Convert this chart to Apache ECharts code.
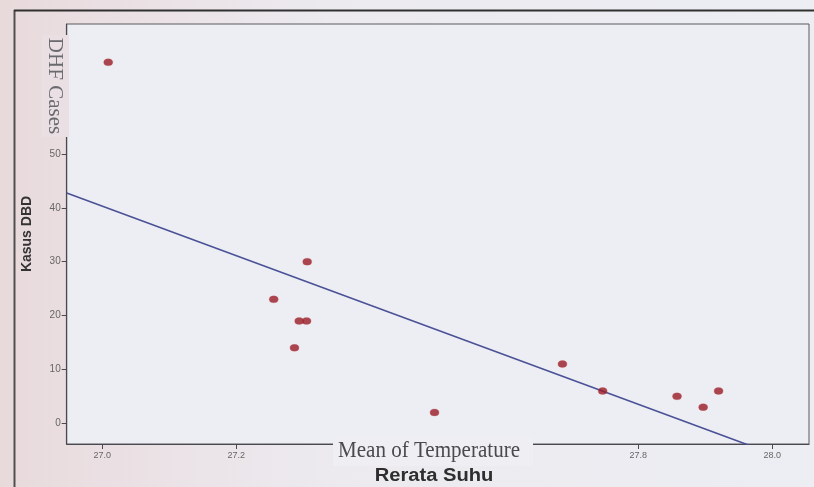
<!DOCTYPE html>
<html>
<head>
<meta charset="utf-8">
<script src="https://cdn.jsdelivr.net/npm/echarts@6/dist/echarts.min.js"></script>
<style>
html,body{margin:0;padding:0;background:#ebe7ec;}
#chart{width:814px;height:487px;}
</style>
</head>
<body>
<div id="chart"></div>
<script>
// Data
const temperature = [27.009, 27.256, 27.287, 27.294, 27.305, 27.306, 27.496, 27.687, 27.747, 27.858, 27.897, 27.920];
const dhfCases    = [67,     23,     14,     19,     19,     30,     2,      11,     6,      5,      3,      6];
const xTicks = [27.0, 27.2, 27.4, 27.6, 27.8, 28.0];
const yTicks = [0, 10, 20, 30, 40, 50, 60, 70];

const xMin = 26.947, xMax = 28.055, yMin = -3.84, yMax = 74.1;

// least-squares fit from the data
const n = temperature.length;
const mx = temperature.reduce((a, b) => a + b, 0) / n;
const my = dhfCases.reduce((a, b) => a + b, 0) / n;
let sxy = 0, sxx = 0;
for (let i = 0; i < n; i++) {
  sxy += (temperature[i] - mx) * (dhfCases[i] - my);
  sxx += (temperature[i] - mx) * (temperature[i] - mx);
}
const slope = sxy / sxx;
const icpt = my - slope * mx;
const fitLine = [[xMin, icpt + slope * xMin], [xMax, icpt + slope * xMax]];

const points = temperature.map((t, i) => [t, dhfCases[i]]);

const chart = echarts.init(document.getElementById('chart'));
chart.setOption({
  animation: false,
  backgroundColor: {
    type: 'linear', x: 0, y: 0, x2: 1, y2: 0,
    colorStops: [
      {offset: 0, color: '#e8dadb'},
      {offset: 0.12, color: '#eadfe2'},
      {offset: 0.4, color: '#eceaef'},
      {offset: 1, color: '#eceef3'}
    ]
  },
  grid: {
    left: 66.7, right: 5, top: 24, bottom: 43,
    show: true, backgroundColor: '#eceef4', borderColor: '#5a5a5e', borderWidth: 1
  },
  xAxis: {
    type: 'value', min: xMin, max: xMax,
    axisLine: {show: true, onZero: false, lineStyle: {color: '#4a4a4e', width: 1.2}},
    axisTick: {show: true, length: 5, customValues: xTicks, lineStyle: {color: '#4a4a4e'}},
    axisLabel: {customValues: xTicks, formatter: v => v.toFixed(1), color: '#666', fontSize: 9,
      fontFamily: 'Liberation Sans', margin: 7},
    splitLine: {show: false}
  },
  yAxis: {
    type: 'value', min: yMin, max: yMax,
    axisLine: {show: true, onZero: false, lineStyle: {color: '#4a4a4e', width: 1.2}},
    axisTick: {show: true, length: 5, customValues: yTicks, lineStyle: {color: '#4a4a4e'}},
    axisLabel: {customValues: yTicks, color: '#666', fontSize: 10, fontFamily: 'Liberation Sans', margin: 6},
    splitLine: {show: false}
  },
  series: [
    {
      type: 'line', data: fitLine, symbol: 'none', clip: true, silent: true,
      lineStyle: {color: '#4b5196', width: 1.6}, z: 2
    },
    {
      type: 'scatter', data: points, symbol: 'circle', symbolSize: [9, 7],
      itemStyle: {color: '#981a26', borderColor: 'rgba(200,80,80,0.35)', borderWidth: 1}, z: 3
    }
  ],
  graphic: [
    {type: 'line', shape: {x1: 14.5, y1: 10, x2: 14.5, y2: 487}, style: {stroke: '#505050', lineWidth: 2}, z: 10},
    {type: 'line', shape: {x1: 14, y1: 10.5, x2: 814, y2: 10.5}, style: {stroke: '#303030', lineWidth: 2}, z: 10},
    {type: 'rect', shape: {x: 42, y: 35, width: 27, height: 102}, style: {fill: '#eadfe2'}, z: 20},
    {type: 'text', x: 55, y: 86, rotation: -Math.PI / 2, z: 21,
      style: {text: 'DHF Cases', font: '21px "Liberation Serif"', fill: '#6a6a6e', align: 'center', verticalAlign: 'middle'}},
    {type: 'rect', shape: {x: 333, y: 437, width: 200, height: 29}, style: {fill: '#eeeef3'}, z: 20},
    {type: 'text', x: 429, y: 451, scaleX: 0.877, z: 21,
      style: {text: 'Mean of Temperature', font: '24px "Liberation Serif"', fill: '#4a4a4e', align: 'center', verticalAlign: 'middle'}},
    {type: 'text', x: 434, y: 476, scaleX: 1.12, z: 21,
      style: {text: 'Rerata Suhu', font: 'bold 18px "Liberation Sans"', fill: '#2e2e2e', align: 'center', verticalAlign: 'middle'}},
    {type: 'text', x: 27, y: 234, rotation: Math.PI / 2, z: 21,
      style: {text: 'Kasus DBD', font: 'bold 14px "Liberation Sans"', fill: '#333', align: 'center', verticalAlign: 'middle'}}
  ]
});
</script>
</body>
</html>
